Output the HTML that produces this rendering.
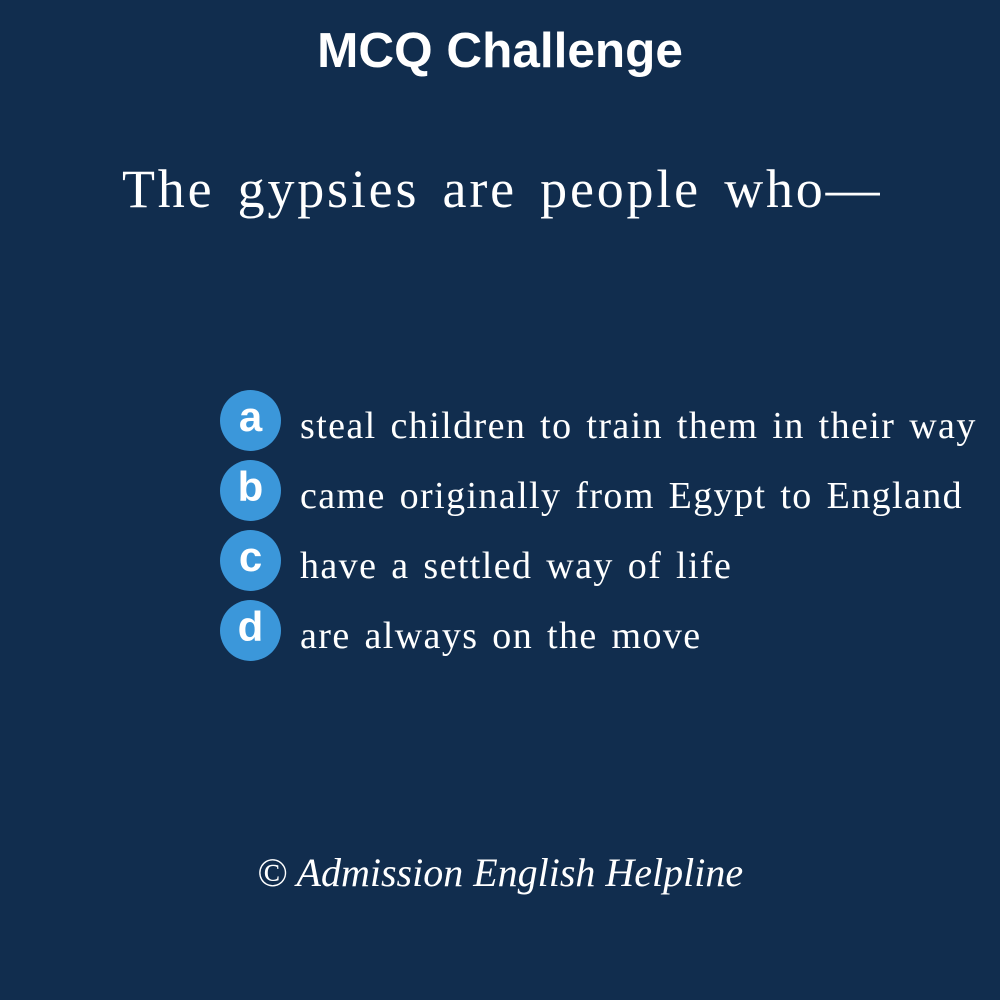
<!DOCTYPE html>
<html><head><meta charset="utf-8"><style>
body{margin:0;width:1000px;height:1000px;background:#112d4e;overflow:hidden;position:relative;font-family:"Liberation Serif",serif;color:#fff}
.t{position:absolute;left:0;width:1000px;text-align:center;top:22px;font:bold 49.5px "Liberation Sans",sans-serif}
.q{position:absolute;left:122px;top:158px;font-size:54px;letter-spacing:2.8px;word-spacing:7px;white-space:nowrap}
.c{position:absolute;left:220px;width:61px;height:61px;border-radius:50%;background:#3b97da;font:bold 42px "Liberation Sans",sans-serif;text-align:center;line-height:54px}
.o{position:absolute;left:300px;font-size:38px;letter-spacing:1.4px;word-spacing:3px;white-space:nowrap}
.f{position:absolute;left:0;width:1000px;text-align:center;top:849px;font-size:40px;font-style:italic}
</style></head><body>
<div class="t">MCQ Challenge</div>
<div class="q">The gypsies are people who—</div>
<div class="c" style="top:390px">a</div>
<div class="o" style="top:404px">steal children to train them in their way</div>
<div class="c" style="top:460px">b</div>
<div class="o" style="top:474px">came originally from Egypt to England</div>
<div class="c" style="top:530px">c</div>
<div class="o" style="top:544px">have a settled way of life</div>
<div class="c" style="top:600px">d</div>
<div class="o" style="top:614px">are always on the move</div>
<div class="f">© Admission English Helpline</div>
</body></html>
